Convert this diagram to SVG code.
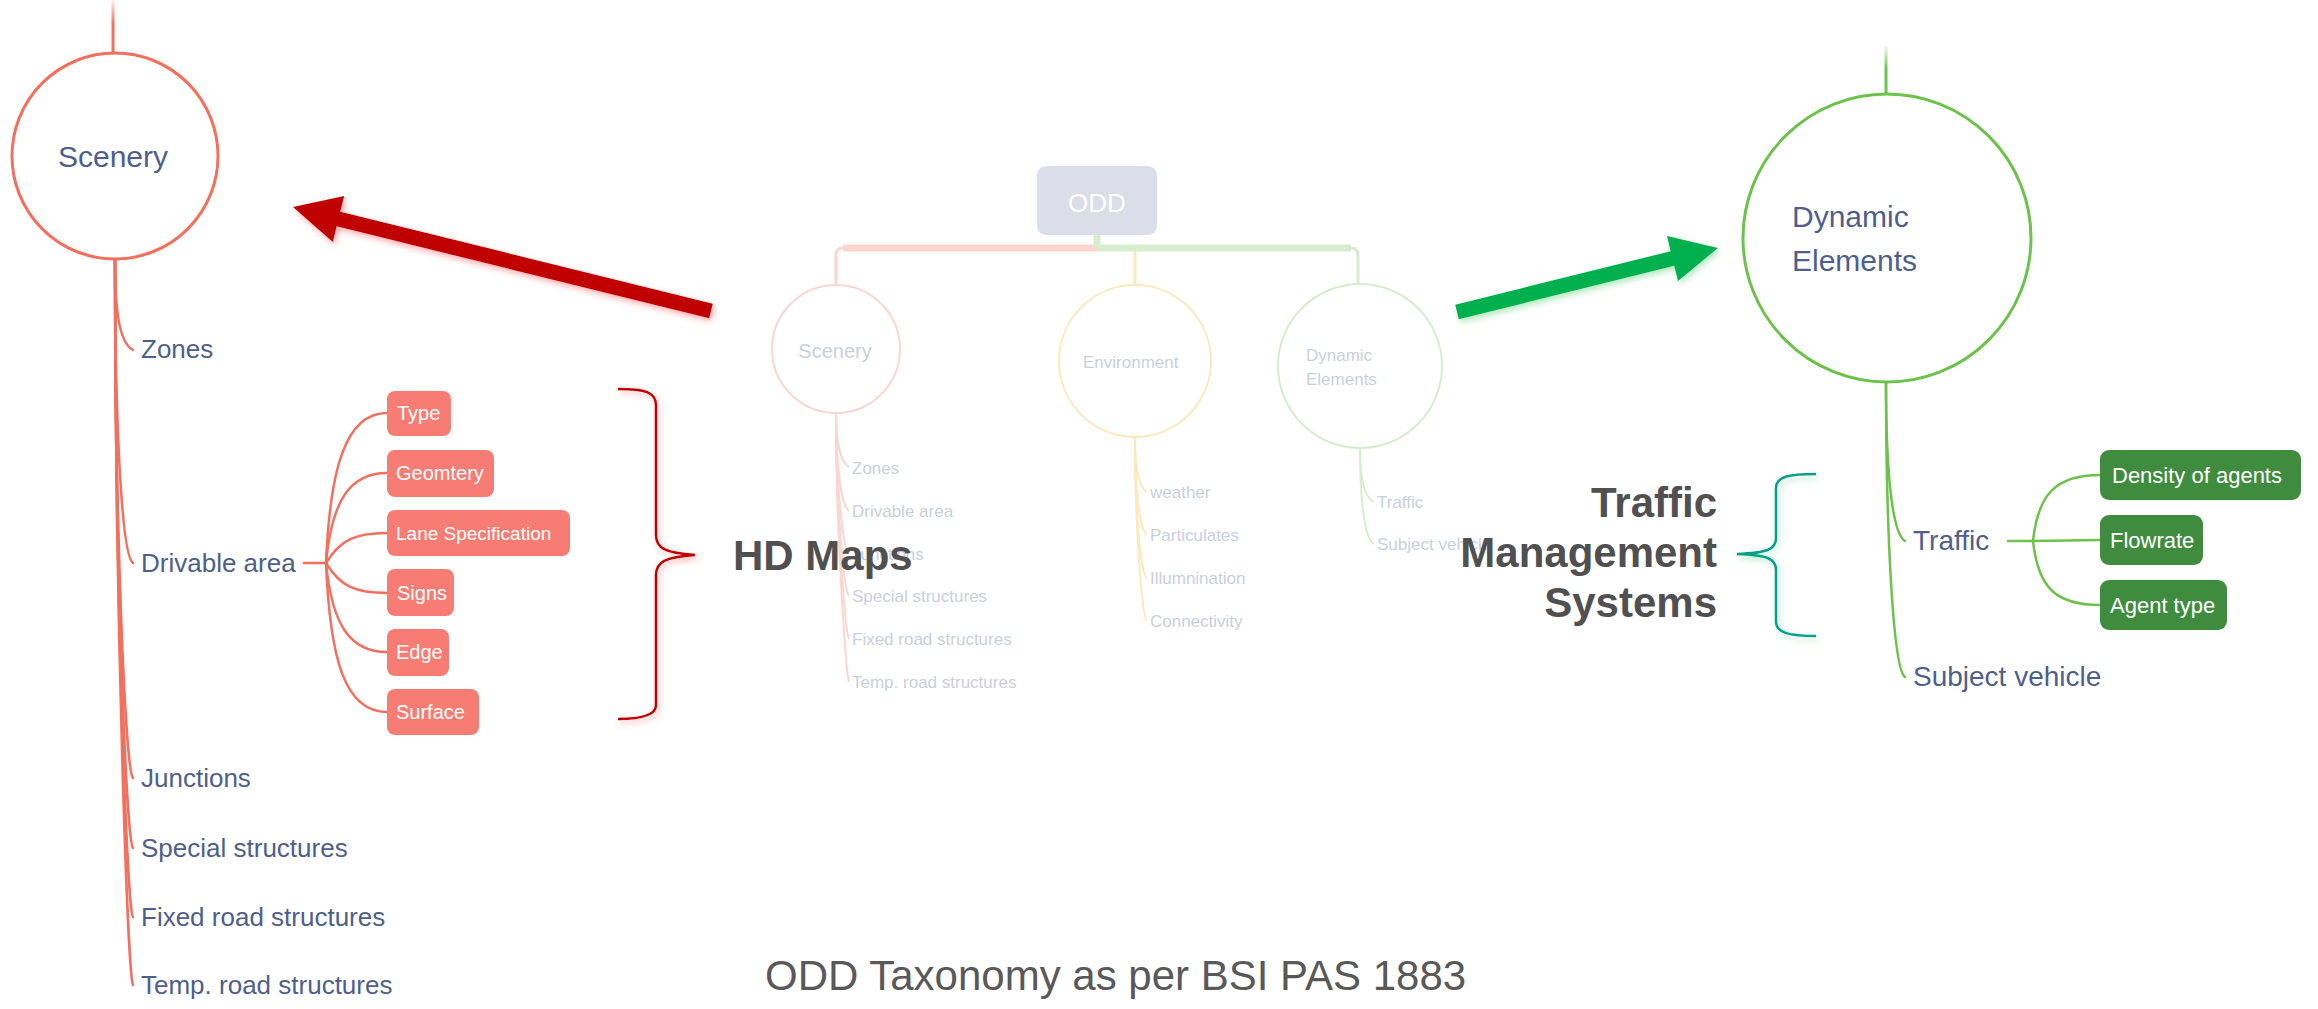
<svg xmlns="http://www.w3.org/2000/svg" width="2318" height="1009" viewBox="0 0 2318 1009">
<style>
.hand{font-family:"Liberation Sans","DejaVu Sans",sans-serif;fill:#4e5f8c}
.faint{font-family:"Liberation Sans","DejaVu Sans",sans-serif;fill:#c9cfdf;font-size:17px}
.big{font-family:"Liberation Sans",Arial,sans-serif;font-weight:bold;font-size:42px;fill:#505050}
.coral{fill:none;stroke:#f36f5e;stroke-width:2.5;stroke-linecap:round}
.green{fill:none;stroke:#6cc24a;stroke-width:2.5;stroke-linecap:round}
.fpink{fill:none;stroke:#fbd6d0;stroke-width:2}
.fyel{fill:none;stroke:#fde8bb;stroke-width:2}
.fgrn{fill:none;stroke:#d8edcd;stroke-width:2}
.cbox{fill:#f77c73}
.gbox{fill:#3f8c3f}
.btxt{font-family:"Liberation Sans","DejaVu Sans",sans-serif;fill:#ffffff}
</style>
<defs>
<linearGradient id="fadeL" gradientUnits="userSpaceOnUse" x1="0" y1="0" x2="0" y2="53">
<stop offset="0" stop-color="#f36f5e" stop-opacity="0.1"/>
<stop offset="0.45" stop-color="#f36f5e" stop-opacity="1"/>
</linearGradient>
<linearGradient id="fadeR" gradientUnits="userSpaceOnUse" x1="0" y1="46" x2="0" y2="94">
<stop offset="0" stop-color="#6cc24a" stop-opacity="0.1"/>
<stop offset="0.5" stop-color="#6cc24a" stop-opacity="1"/>
</linearGradient>
<filter id="glowRed" x="-20%" y="-40%" width="140%" height="180%">
<feGaussianBlur in="SourceAlpha" stdDeviation="3"/>
<feOffset dx="2" dy="3" result="b"/>
<feFlood flood-color="#ff6060" flood-opacity="0.55"/>
<feComposite in2="b" operator="in"/>
<feMerge><feMergeNode/><feMergeNode in="SourceGraphic"/></feMerge>
</filter>
<filter id="glowGreen" x="-20%" y="-40%" width="140%" height="180%">
<feGaussianBlur in="SourceAlpha" stdDeviation="3"/>
<feOffset dx="2" dy="3" result="b"/>
<feFlood flood-color="#60d080" flood-opacity="0.5"/>
<feComposite in2="b" operator="in"/>
<feMerge><feMergeNode/><feMergeNode in="SourceGraphic"/></feMerge>
</filter>
</defs>
<rect x="0" y="0" width="2318" height="1009" fill="#ffffff"/>

<!-- faded central ODD diagram -->
<g id="faded-connectors">
<path d="M1097,248 L843,248 Q836,248 836,255 L836,285" fill="none" stroke="#fbd6d0" stroke-width="3"/>
<path d="M843,248 L1097,248" fill="none" stroke="#fbd6d0" stroke-width="7"/>
<path d="M1097,248 L1351,248" fill="none" stroke="#d8edcd" stroke-width="7"/>
<path d="M1351,248 Q1358,248 1358,255 L1358,285" fill="none" stroke="#d8edcd" stroke-width="3"/>
<path d="M1097,235 L1097,248" fill="none" stroke="#d8edcd" stroke-width="7"/>
<path d="M1135,251 L1135,285" fill="none" stroke="#fde8bb" stroke-width="3"/>
<path class="fpink" d="M836,413 C836,440 840,462 849,467"/>
<path class="fpink" d="M836,413 C836,462 841,506 849,511"/>
<path class="fpink" d="M836,413 C836,484 843,549 849,554"/>
<path class="fpink" d="M836,413 C836,505 844,591 849,596"/>
<path class="fpink" d="M836,413 C836,526 846,634 849,639"/>
<path class="fpink" d="M836,413 C836,548 847,677 849,682"/>
<path class="fyel" d="M1135,437 C1135,465 1138,487 1147,492"/>
<path class="fyel" d="M1135,437 C1135,486 1139,530 1147,535"/>
<path class="fyel" d="M1135,437 C1135,508 1140,573 1147,578"/>
<path class="fyel" d="M1135,437 C1135,529 1142,616 1147,621"/>
<path class="fgrn" d="M1360,448 C1360,475 1363,497 1374,502"/>
<path class="fgrn" d="M1360,448 C1360,496 1364,539 1374,544"/>
</g>
<g id="faded-odd">
<rect x="1037" y="166" width="120" height="69" rx="9" fill="#d9dee8"/>
<text x="1097" y="212" text-anchor="middle" class="btxt" font-size="26">ODD</text>
</g>
<g id="faded-scenery">
<circle cx="836" cy="349" r="64" fill="none" stroke="#fbd6d0" stroke-width="2"/>
<text x="835" y="358" text-anchor="middle" class="faint" style="font-size:20px">Scenery</text>
<text x="852" y="474" class="faint">Zones</text>
<text x="852" y="517" class="faint">Drivable area</text>
<text x="852" y="560" class="faint">Junctions</text>
<text x="852" y="602" class="faint">Special structures</text>
<text x="852" y="645" class="faint">Fixed road structures</text>
<text x="852" y="688" class="faint">Temp. road structures</text>
</g>
<g id="faded-environment">
<circle cx="1135" cy="361" r="76" fill="none" stroke="#fde8bb" stroke-width="2"/>
<text x="1083" y="368" class="faint">Environment</text>
<text x="1150" y="498" class="faint">weather</text>
<text x="1150" y="541" class="faint">Particulates</text>
<text x="1150" y="584" class="faint">Illumnination</text>
<text x="1150" y="627" class="faint">Connectivity</text>
</g>
<g id="faded-dynamic">
<circle cx="1360" cy="366" r="82" fill="none" stroke="#d8edcd" stroke-width="2"/>
<text x="1306" y="361" class="faint">Dynamic</text>
<text x="1306" y="385" class="faint">Elements</text>
<text x="1377" y="508" class="faint">Traffic</text>
<text x="1377" y="550" class="faint">Subject vehicle</text>
</g>

<!-- left Scenery tree -->
<g id="connectors">
<path d="M113,0 L113,53" fill="none" stroke="url(#fadeL)" stroke-width="3"/>
<path class="coral" d="M115,260 C115,305 118,342 133,350"/>
<path class="coral" d="M115,260 C115,412 121,555 133,563"/>
<path class="coral" d="M115,260 C115,519 125,770 133,778"/>
<path class="coral" d="M115,260 C115,554 126,840 133,848"/>
<path class="coral" d="M115,260 C115,588 127,909 133,917"/>
<path class="coral" d="M115,260 C115,622 128,977 133,985"/>
<path class="coral" d="M304,563 L326,563"/>
<path class="coral" d="M326,563 C330,470 345,413 387,413"/>
<path class="coral" d="M326,563 C332,500 350,473 387,473"/>
<path class="coral" d="M326,563 C340,540 355,533 387,533"/>
<path class="coral" d="M326,563 C340,586 355,593 387,593"/>
<path class="coral" d="M326,563 C332,625 350,652 387,652"/>
<path class="coral" d="M326,563 C330,660 345,712 387,712"/>
<path d="M1886,46 L1886,94" fill="none" stroke="url(#fadeR)" stroke-width="3"/>
<path class="green" d="M1886,383 C1886,462 1891,533 1905,541"/>
<path class="green" d="M1886,383 C1886,530 1893,669 1905,677"/>
<path class="green" d="M2008,541 L2033,541"/>
<path class="green" d="M2033,541 C2038,495 2055,475 2100,475"/>
<path class="green" d="M2033,541 L2100,540"/>
<path class="green" d="M2033,541 C2038,587 2055,605 2100,605"/>
</g>
<g id="scenery">
<circle cx="115" cy="156" r="103" fill="none" stroke="#f36f5e" stroke-width="3"/>
<text x="113" y="167" text-anchor="middle" class="hand" font-size="30">Scenery</text>
</g>
<g id="zones"><text x="141" y="358" class="hand" font-size="26">Zones</text></g>
<g id="drivable-area"><text x="141" y="572" class="hand" font-size="26">Drivable area</text></g>
<g id="junctions"><text x="141" y="787" class="hand" font-size="26">Junctions</text></g>
<g id="special-structures"><text x="141" y="857" class="hand" font-size="26">Special structures</text></g>
<g id="fixed-road-structures"><text x="141" y="926" class="hand" font-size="26">Fixed road structures</text></g>
<g id="temp-road-structures"><text x="141" y="994" class="hand" font-size="26">Temp. road structures</text></g>
<g id="type"><rect class="cbox" x="387" y="391" width="64" height="45" rx="8"/><text x="397" y="420" class="btxt" font-size="20">Type</text></g>
<g id="geomtery"><rect class="cbox" x="387" y="450" width="107" height="47" rx="8"/><text x="396" y="480" class="btxt" font-size="20">Geomtery</text></g>
<g id="lane-specification"><rect class="cbox" x="387" y="510" width="183" height="46" rx="8"/><text x="396" y="540" class="btxt" font-size="19">Lane Specification</text></g>
<g id="signs"><rect class="cbox" x="387" y="569" width="67" height="47" rx="8"/><text x="397" y="600" class="btxt" font-size="20">Signs</text></g>
<g id="edge"><rect class="cbox" x="387" y="629" width="62" height="47" rx="8"/><text x="396" y="659" class="btxt" font-size="20">Edge</text></g>
<g id="surface"><rect class="cbox" x="387" y="689" width="92" height="46" rx="8"/><text x="396" y="719" class="btxt" font-size="20">Surface</text></g>

<!-- right Dynamic Elements tree -->
<g id="dynamic-elements">
<circle cx="1887" cy="238" r="144" fill="none" stroke="#6cc24a" stroke-width="3"/>
<text x="1792" y="227" class="hand" font-size="30">Dynamic</text>
<text x="1792" y="271" class="hand" font-size="30">Elements</text>
</g>
<g id="traffic"><text x="1913" y="550" class="hand" font-size="28">Traffic</text></g>
<g id="subject-vehicle"><text x="1913" y="686" class="hand" font-size="28">Subject vehicle</text></g>
<g id="density-of-agents"><rect class="gbox" x="2100" y="450" width="201" height="50" rx="9"/><text x="2112" y="483" class="btxt" font-size="22">Density of agents</text></g>
<g id="flowrate"><rect class="gbox" x="2100" y="515" width="103" height="50" rx="9"/><text x="2110" y="548" class="btxt" font-size="22">Flowrate</text></g>
<g id="agent-type"><rect class="gbox" x="2100" y="580" width="127" height="50" rx="9"/><text x="2110" y="613" class="btxt" font-size="22">Agent type</text></g>

<!-- annotations -->
<g id="red-arrow">
<polygon filter="url(#glowRed)" fill="#c00000" points="293,207 344.2,196.1 340.3,211.7 712.8,303.7 709.2,318.3 336.7,226.3 332.8,241.9"/>
</g>
<g id="green-arrow">
<polygon filter="url(#glowGreen)" fill="#00b050" points="1718,248 1678,281 1674.3,265.8 1458.8,319.3 1455.2,304.7 1670.7,251.2 1667,236"/>
</g>
<g id="hd-brace">
<path filter="url(#glowRed)" d="M618,389 C645,389 656,392 656,405 L656,535 C656,548 665,553 695,555 C665,557 656,562 656,575 L656,705 C656,714 645,719 618,719" fill="none" stroke="#c00000" stroke-width="2.5"/>
</g>
<g id="hd-maps"><text x="733" y="570" class="big">HD Maps</text></g>
<g id="tms-brace">
<path filter="url(#glowGreen)" d="M1816,474 C1790,474 1776,476 1776,488 L1776,538 C1776,549 1768,553 1737,554 C1768,555 1776,559 1776,570 L1776,622 C1776,633 1790,636 1816,636" fill="none" stroke="#00a08a" stroke-width="2.5"/>
</g>
<g id="tms">
<text x="1717" y="517" text-anchor="end" class="big">Traffic</text>
<text x="1717" y="567" text-anchor="end" class="big">Management</text>
<text x="1717" y="617" text-anchor="end" class="big">Systems</text>
</g>
<g id="caption">
<text x="765" y="990" font-family="'Liberation Sans',Arial,sans-serif" font-size="42" fill="#595959">ODD Taxonomy as per BSI PAS 1883</text>
</g>
</svg>
